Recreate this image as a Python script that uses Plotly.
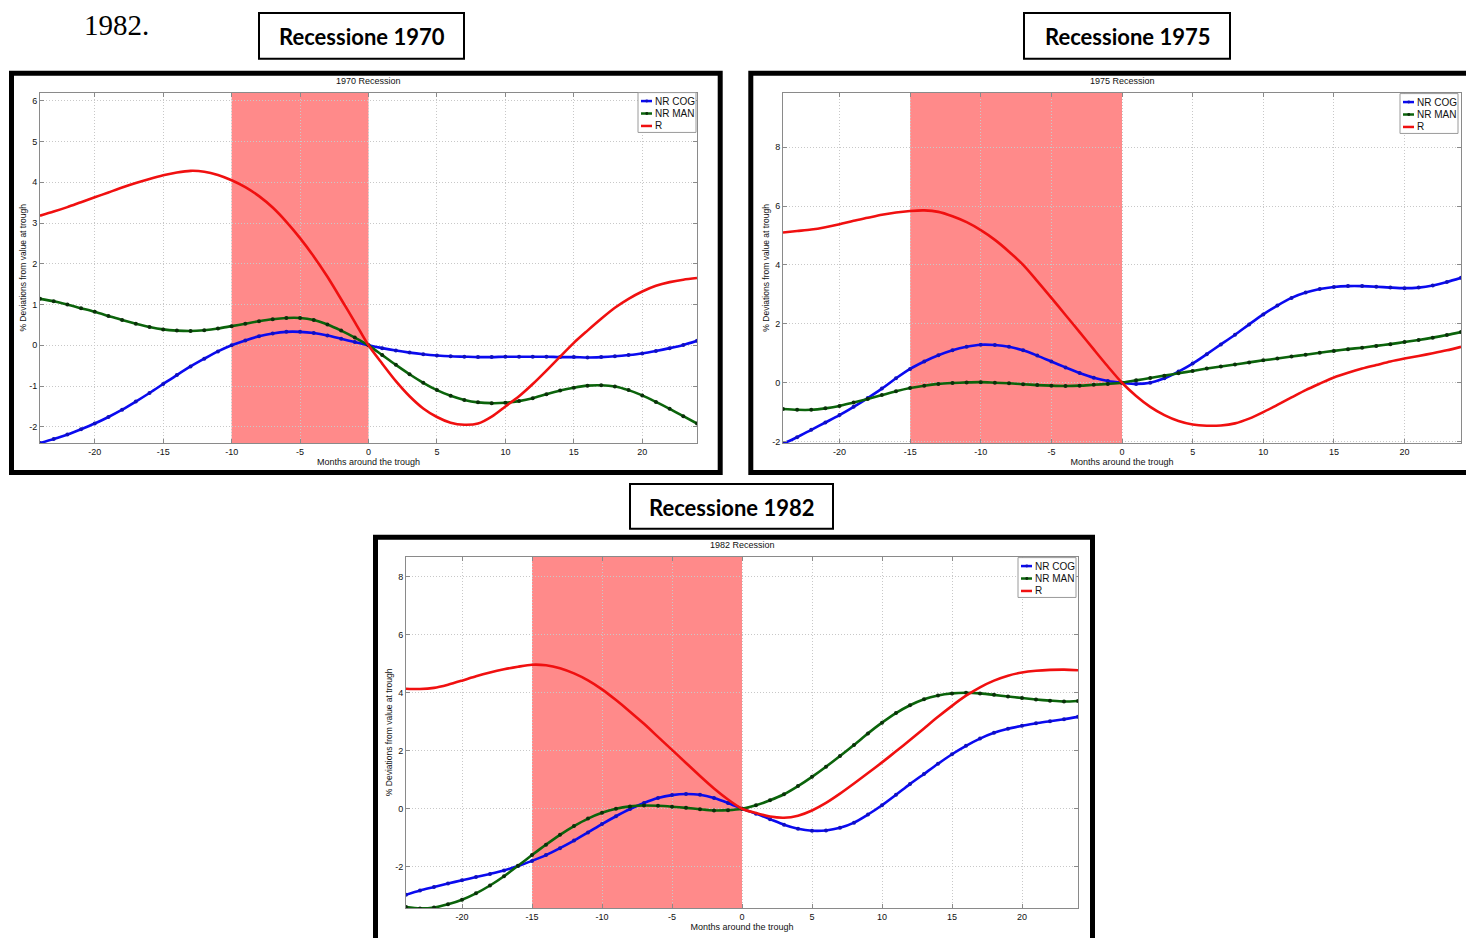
import plotly.graph_objects as go

W, H = 1466, 938

# Months around the trough
months = list(range(-24, 25))

# 1970 recession
nr_cog_1970 = [-2.40, -2.30, -2.19, -2.06, -1.92, -1.76, -1.58, -1.38, -1.17, -0.95, -0.73, -0.52,
               -0.33, -0.15, 0.00, 0.12, 0.22, 0.29, 0.33, 0.33, 0.30, 0.24, 0.16, 0.08, 0.00,
               -0.07, -0.13, -0.18, -0.22, -0.25, -0.27, -0.28, -0.29, -0.29, -0.28, -0.28, -0.28,
               -0.28, -0.29, -0.29, -0.30, -0.29, -0.27, -0.24, -0.20, -0.14, -0.07, 0.01, 0.11]
nr_man_1970 = [1.14, 1.08, 1.00, 0.91, 0.82, 0.72, 0.62, 0.53, 0.45, 0.39, 0.36, 0.35,
               0.37, 0.41, 0.47, 0.53, 0.59, 0.64, 0.67, 0.67, 0.62, 0.51, 0.36, 0.19, 0.00,
               -0.24, -0.48, -0.71, -0.92, -1.10, -1.24, -1.34, -1.40, -1.42, -1.41, -1.37, -1.30,
               -1.20, -1.11, -1.04, -0.99, -0.98, -1.01, -1.10, -1.23, -1.39, -1.56, -1.74, -1.92]
r_1970 = [3.18, 3.28, 3.39, 3.51, 3.63, 3.75, 3.87, 3.98, 4.08, 4.17, 4.24, 4.28,
          4.26, 4.18, 4.05, 3.88, 3.66, 3.38, 3.03, 2.63, 2.18, 1.68, 1.13, 0.57, 0.00,
          -0.45, -0.88, -1.25, -1.55, -1.76, -1.90, -1.95, -1.92, -1.75, -1.50, -1.25, -0.95,
          -0.62, -0.28, 0.06, 0.36, 0.65, 0.92, 1.14, 1.32, 1.46, 1.55, 1.61, 1.65]

# 1975 recession
nr_cog_1975 = [-2.07, -1.85, -1.60, -1.35, -1.10, -0.82, -0.52, -0.20, 0.15, 0.47, 0.72, 0.93,
               1.10, 1.22, 1.29, 1.28, 1.22, 1.10, 0.92, 0.72, 0.52, 0.33, 0.17, 0.06, 0.00,
               -0.04, 0.00, 0.15, 0.38, 0.65, 0.97, 1.30, 1.63, 1.98, 2.32, 2.62, 2.88,
               3.06, 3.18, 3.25, 3.28, 3.28, 3.26, 3.23, 3.21, 3.23, 3.30, 3.42, 3.56]
nr_man_1975 = [-0.89, -0.92, -0.92, -0.87, -0.79, -0.67, -0.55, -0.42, -0.29, -0.18, -0.10, -0.04,
               -0.01, 0.01, 0.02, 0.00, -0.02, -0.05, -0.08, -0.10, -0.11, -0.10, -0.07, -0.04, 0.00,
               0.08, 0.16, 0.24, 0.32, 0.40, 0.48, 0.55, 0.62, 0.69, 0.76, 0.82, 0.89,
               0.95, 1.02, 1.08, 1.14, 1.19, 1.25, 1.31, 1.38, 1.45, 1.53, 1.62, 1.72]
r_1975 = [5.10, 5.15, 5.20, 5.28, 5.38, 5.50, 5.60, 5.70, 5.78, 5.83, 5.85, 5.80,
          5.65, 5.45, 5.18, 4.85, 4.45, 4.00, 3.45, 2.88, 2.30, 1.72, 1.13, 0.55, 0.00,
          -0.45, -0.82, -1.10, -1.30, -1.42, -1.46, -1.45, -1.38, -1.22, -1.00, -0.75, -0.50,
          -0.25, -0.03, 0.18, 0.34, 0.48, 0.60, 0.72, 0.82, 0.91, 1.00, 1.10, 1.22]

# 1982 recession
nr_cog_1982 = [-2.97, -2.82, -2.70, -2.58, -2.47, -2.36, -2.25, -2.13, -1.98, -1.80, -1.60, -1.36,
               -1.10, -0.82, -0.53, -0.26, -0.01, 0.20, 0.37, 0.47, 0.51, 0.48, 0.37, 0.20, 0.00,
               -0.17, -0.36, -0.55, -0.69, -0.76, -0.75, -0.66, -0.48, -0.20, 0.12, 0.48, 0.85,
               1.20, 1.55, 1.88, 2.17, 2.42, 2.62, 2.76, 2.86, 2.95, 3.02, 3.09, 3.17]
nr_man_1982 = [-3.39, -3.44, -3.41, -3.30, -3.14, -2.92, -2.65, -2.33, -1.97, -1.60, -1.24, -0.90,
               -0.60, -0.34, -0.14, 0.00, 0.08, 0.11, 0.10, 0.07, 0.03, -0.02, -0.06, -0.05, 0.00,
               0.12, 0.29, 0.50, 0.78, 1.10, 1.45, 1.82, 2.20, 2.60, 2.97, 3.30, 3.57,
               3.78, 3.91, 3.98, 4.00, 3.98, 3.93, 3.87, 3.82, 3.77, 3.73, 3.70, 3.72]
r_1982 = [4.14, 4.13, 4.17, 4.28, 4.42, 4.57, 4.70, 4.81, 4.90, 4.97, 4.95, 4.85,
          4.67, 4.43, 4.12, 3.75, 3.35, 2.93, 2.48, 2.03, 1.58, 1.13, 0.70, 0.32, 0.00,
          -0.15, -0.27, -0.31, -0.24, -0.06, 0.20, 0.52, 0.87, 1.23, 1.60, 1.98, 2.37,
          2.77, 3.17, 3.55, 3.90, 4.19, 4.42, 4.59, 4.70, 4.76, 4.79, 4.80, 4.78]

# Recession windows (months before the trough)
recession_start = {"1970": -10, "1975": -15, "1982": -15}
x_ticks = [-20, -15, -10, -5, 0, 5, 10, 15, 20]
y_ticks = {"1970": [-2, -1, 0, 1, 2, 3, 4, 5, 6],
           "1975": [-2, 0, 2, 4, 6, 8],
           "1982": [-2, 0, 2, 4, 6, 8]}
series_names = ["NR COG", "NR MAN", "R"]


def px(x):
    return x / W


def py(y):
    return 1 - y / H


def label(v):
    # plain hyphen for negative numbers
    return str(v)


BLUE = "#0a0af0"
GREEN = "#0b640b"
RED = "#f01010"
PINK = "#ff8a8a"
FONT = "Liberation Sans"
INK = "#111111"

series = {
    "1970": (nr_cog_1970, nr_man_1970, r_1970),
    "1975": (nr_cog_1975, nr_man_1975, r_1975),
    "1982": (nr_cog_1982, nr_man_1982, r_1982),
}
styles = [dict(line=BLUE, marker="#1010c0", dots=True),
          dict(line=GREEN, marker="#0a300a", dots=True),
          dict(line=RED, marker=RED, dots=False)]

# Pixel layout of each panel: plot box (left, top, right, bottom), y range, legend box corner
panels = [
    dict(year="1970", box=(40, 93, 697, 445), yrange=[-2.4, 6.2], leg=(638, 93)),
    dict(year="1975", box=(783, 93, 1461, 445), yrange=[-2.05, 9.85], leg=(1400, 94)),
    dict(year="1982", box=(406, 559, 1078, 912), yrange=[-3.43, 8.7], leg=(1018, 560)),
]

fig = go.Figure()
shapes = []
annotations = []
layout = {}

for i, p in enumerate(panels):
    n = "" if i == 0 else str(i + 1)
    xa, ya = "x" + n, "y" + n
    for name, vals, st in zip(series_names, series[p["year"]], styles):
        fig.add_trace(go.Scatter(
            x=months, y=vals, name=name,
            mode="lines+markers" if st["dots"] else "lines",
            line=dict(color=st["line"], width=2.6, shape="spline", smoothing=0.8),
            marker=dict(size=4, color=st["marker"]),
            xaxis=xa, yaxis=ya, showlegend=False))

    l, t, rr, b = p["box"]
    common = dict(showline=True, linecolor="#8a8a8a", linewidth=1, mirror="allticks",
                  ticks="inside", ticklen=4, tickcolor="#8a8a8a",
                  showgrid=True, gridcolor="#c8c8c8", griddash="1px,2px", gridwidth=1,
                  zeroline=False, tickfont=dict(family=FONT, size=9, color=INK))
    layout["xaxis" + n] = dict(common, domain=[px(l), px(rr)], range=[-24, 24],
                               tickmode="array", tickvals=x_ticks,
                               ticktext=[label(v) for v in x_ticks], anchor=ya,
                               title=dict(text="Months around the trough", standoff=2,
                                          font=dict(family=FONT, size=9, color=INK)))
    yt = y_ticks[p["year"]]
    layout["yaxis" + n] = dict(common, domain=[py(b), py(t)], range=p["yrange"],
                               tickmode="array", tickvals=yt, ticktext=[label(v) for v in yt],
                               anchor=xa,
                               title=dict(text="% Deviations from value at trough", standoff=1,
                                          font=dict(family=FONT, size=8.5, color=INK)))

    # shaded recession window, under the grid
    shapes.append(dict(type="rect", xref=xa, yref=ya + " domain",
                       x0=recession_start[p["year"]], x1=0, y0=0, y1=1,
                       fillcolor=PINK, line=dict(width=0), layer="below"))

    # panel title
    annotations.append(dict(text=p["year"] + " Recession", xref="paper", yref="paper",
                            x=px((l + rr) / 2), y=py(t - 12), showarrow=False,
                            xanchor="center", yanchor="middle",
                            font=dict(family=FONT, size=9, color=INK)))

    # legend box
    lx, ly = p["leg"]
    shapes.append(dict(type="rect", xref="paper", yref="paper",
                       x0=px(lx), x1=px(lx + 58), y0=py(ly + 40), y1=py(ly),
                       fillcolor="white", line=dict(color="#9a9a9a", width=1), layer="above"))
    for k, (name, st) in enumerate(zip(series_names, styles)):
        ry = ly + 8.5 + 12.5 * k
        shapes.append(dict(type="line", xref="paper", yref="paper",
                           x0=px(lx + 3), x1=px(lx + 14), y0=py(ry), y1=py(ry),
                           line=dict(color=st["line"], width=2.5), layer="above"))
        if st["dots"]:
            shapes.append(dict(type="circle", xref="paper", yref="paper",
                               x0=px(lx + 7.3), x1=px(lx + 10.3), y0=py(ry + 1.5), y1=py(ry - 1.5),
                               fillcolor=st["marker"], line=dict(width=0), layer="above"))
        annotations.append(dict(text=name, xref="paper", yref="paper",
                                x=px(lx + 14.5), y=py(ry), xanchor="left", yanchor="middle",
                                showarrow=False,
                                font=dict(family=FONT, size=10, color=INK)))

# thick outer frames around each chart
frames = [(11.5, 73.5, 720.2, 474.5), (750.8, 73.5, 1475, 474.5), (375.5, 539.5, 1092.5, 950)]
for x0, y0, x1, y1 in frames:
    shapes.append(dict(type="rect", xref="paper", yref="paper",
                       x0=px(x0), x1=px(x1), y0=py(y1), y1=py(y0),
                       line=dict(color="black", width=5), layer="above"))

# boxed headings
headings = [("Recessione 1970", (259, 13, 464, 59)),
            ("Recessione 1975", (1024, 13, 1230, 59)),
            ("Recessione 1982", (630, 486, 833, 531))]
for text, (x0, y0, x1, y1) in headings:
    shapes.append(dict(type="rect", xref="paper", yref="paper",
                       x0=px(x0), x1=px(x1), y0=py(y1), y1=py(y0),
                       line=dict(color="black", width=2), layer="above"))
    annotations.append(dict(text="<b>" + text + "</b>", xref="paper", yref="paper",
                            x=px((x0 + x1) / 2), y=py((y0 + y1) / 2 + 1), showarrow=False,
                            xanchor="center", yanchor="middle",
                            font=dict(family="Lato", size=22, color="black")))

annotations.append(dict(text="1982.", xref="paper", yref="paper", x=px(82), y=py(25),
                        xanchor="left", yanchor="middle", showarrow=False,
                        font=dict(family="Liberation Serif", size=29, color="black")))

fig.update_layout(width=W, height=H, margin=dict(l=0, r=0, t=0, b=0),
                  paper_bgcolor="white", plot_bgcolor="white", showlegend=False,
                  shapes=shapes, annotations=annotations, **layout)

fig.write_html("out.html")
